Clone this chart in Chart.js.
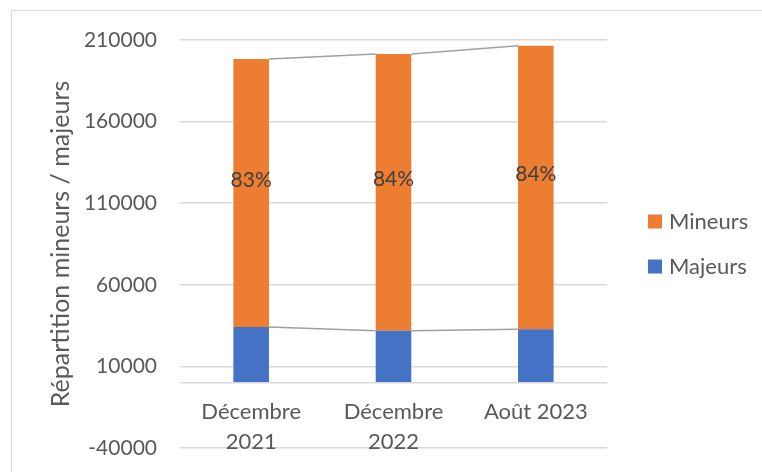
<!DOCTYPE html>
<html>
<head>
<meta charset="utf-8">
<script src="https://cdn.jsdelivr.net/npm/chart.js@4"></script>
<style>
  body { margin: 0; background: #fff; }
  #wrap { position: relative; width: 762px; height: 472px; overflow: hidden; }
  #frame { position: absolute; left: 11px; top: 10px; width: 800px; height: 500px; border: 1px solid #d9d9d9; }
  #myChart { position: absolute; left: 0; top: 0; }
</style>
</head>
<body>
<div id="wrap">
  <div id="frame"></div>
  <canvas id="myChart" width="762" height="472"></canvas>
</div>
<script>
var categories = [["Décembre", "2021"], ["Décembre", "2022"], ["Août 2023"]];
var majeurs = [34200, 31800, 32800];
var mineurs = [164200, 169600, 173700];
var yMin = -40000, yMax = 210000, yStep = 50000;

var textColor = "#595959";
var gridColor = "#d9d9d9";

// grey lines linking the tops of each stack segment, labels and legend
var extras = {
  id: "extras",
  afterDatasetsDraw: function (chart) {
    var ctx = chart.ctx;
    var y = chart.scales.y;
    var x = chart.scales.x;
    var area = chart.chartArea;
    ctx.save();
    // axis line at zero
    ctx.strokeStyle = gridColor;
    ctx.lineWidth = 1.5;
    ctx.beginPath();
    ctx.moveTo(area.left, y.getPixelForValue(0));
    ctx.lineTo(area.right, y.getPixelForValue(0));
    ctx.stroke();

    ctx.strokeStyle = "#a0a0a0";
    ctx.lineWidth = 1.5;
    chart.data.datasets.forEach(function (ds, d) {
      var bars = chart.getDatasetMeta(d).data;
      for (var i = 0; i < bars.length - 1; i++) {
        var a = bars[i], b = bars[i + 1];
        ctx.beginPath();
        ctx.moveTo(a.x + a.width / 2, a.y);
        ctx.lineTo(b.x - b.width / 2, b.y);
        ctx.stroke();
      }
    });

    // percentage labels on the Mineurs segment
    var bars = chart.getDatasetMeta(1).data;
    ctx.fillStyle = "#404040";
    ctx.font = "21px Lato";
    ctx.textAlign = "center";
    ctx.textBaseline = "middle";
    bars.forEach(function (el, i) {
      var pct = Math.round(mineurs[i] / (mineurs[i] + majeurs[i]) * 100) + "%";
      ctx.fillText(pct, el.x, (el.y + el.base) / 2 - 13);
    });

    // category labels just under the zero line
    ctx.fillStyle = textColor;
    ctx.font = "22px Lato";
    categories.forEach(function (lines, i) {
      lines.forEach(function (t, j) {
        ctx.fillText(t, x.getPixelForValue(i), y.getPixelForValue(0) + 29 + j * 30);
      });
    });

    // legend, Mineurs on top
    ctx.textAlign = "left";
    var mid = (area.top + area.bottom) / 2;
    var items = chart.data.datasets.slice().reverse();
    items.forEach(function (ds, k) {
      var cy = mid - 22.5 + k * 45;
      ctx.fillStyle = ds.backgroundColor;
      ctx.fillRect(area.right + 41, cy - 7, 14, 14);
      ctx.fillStyle = textColor;
      ctx.fillText(ds.label, area.right + 62, cy);
    });
    ctx.restore();
  }
};

var ctx = document.getElementById("myChart").getContext("2d");
var myChart = new Chart(ctx, {
  type: "bar",
  data: {
    labels: categories,
    datasets: [
      {
        label: "Majeurs",
        data: majeurs,
        backgroundColor: "#4472c4",
        categoryPercentage: 1,
        barPercentage: 0.25,
      },
      {
        label: "Mineurs",
        data: mineurs,
        backgroundColor: "#ed7d31",
        categoryPercentage: 1,
        barPercentage: 0.25,
      },
    ],
  },
  options: {
    responsive: false,
    animation: false,
    layout: { padding: { left: 0, top: 40, right: 155, bottom: 24 } },
    plugins: {
      tooltip: { enabled: false },
      legend: { display: false },
    },
    scales: {
      x: {
        stacked: true,
        display: false,
      },
      y: {
        stacked: true,
        min: yMin,
        max: yMax,
        ticks: {
          stepSize: yStep,
          padding: 0,
          color: textColor,
          font: { family: "Lato", size: 21 },
          callback: function (v) { return String(v); },
        },
        grid: {
          color: gridColor,
          lineWidth: 1.5,
          drawTicks: true,
          tickLength: 23,
          tickColor: "rgba(0,0,0,0)",
        },
        border: { display: false },
        title: {
          display: true,
          text: "Répartition mineurs / majeurs",
          color: textColor,
          font: { family: "Lato", size: 25 },
          padding: { top: 46, bottom: 0 },
        },
        afterFit: function (scale) {
          scale.width = 180;
        },
      },
    },
  },
  plugins: [extras],
});
</script>
</body>
</html>
